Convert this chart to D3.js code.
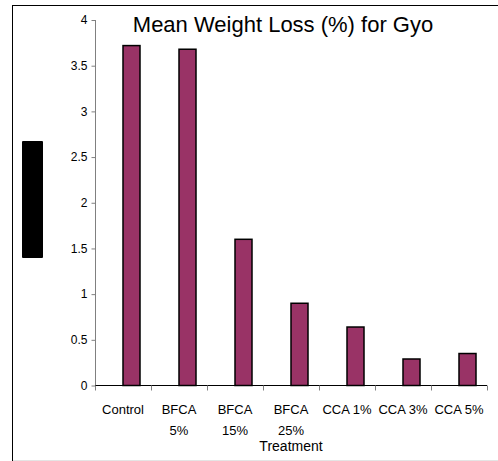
<!DOCTYPE html>
<html>
<head>
<meta charset="utf-8">
<script src="https://cdn.jsdelivr.net/npm/d3@7"></script>
<style>
html,body{margin:0;padding:0;background:#fff;}
svg{display:block;font-family:"Liberation Sans",Arial,sans-serif;}
</style>
</head>
<body>
<svg id="chart" width="498" height="461"></svg>
<script>
const categories = [["Control"], ["BFCA", "5%"], ["BFCA", "15%"], ["BFCA", "25%"], ["CCA 1%"], ["CCA 3%"], ["CCA 5%"]];
const values = [3.72, 3.68, 1.60, 0.90, 0.64, 0.29, 0.35];
const yTicks = [0, 0.5, 1, 1.5, 2, 2.5, 3, 3.5, 4];
const title = "Mean Weight Loss (%) for Gyo";
const xTitle = "Treatment";

(function(){
const svg = d3.select("#chart");
const pL = 95, pR = 487, pT = 20, pB = 385.5;

// frame
svg.append("line").attr("x1",12.5).attr("x2",12.5).attr("y1",5).attr("y2",461).attr("stroke","#000").attr("stroke-width",1);
svg.append("line").attr("x1",12).attr("x2",498).attr("y1",5.5).attr("y2",5.5).attr("stroke","#000").attr("stroke-width",1);
svg.append("line").attr("x1",13).attr("x2",498).attr("y1",460.5).attr("y2",460.5).attr("stroke","#e4e4e4").attr("stroke-width",1);

const keys = categories.map(c => c.join(" "));
const x = d3.scaleBand().domain(keys).range([pL, pR]).padding(0);
const y = d3.scaleLinear().domain([0, 4]).range([pB, pT]);

// y axis
const yAxis = svg.append("g").attr("transform", `translate(${pL+0.5},0)`)
  .call(d3.axisLeft(y).tickValues(yTicks).tickFormat(d3.format("~g")).tickSize(4).tickPadding(4));
yAxis.select(".domain").attr("stroke","#808080").attr("d", `M0,${pT}V${pB}`);
yAxis.selectAll(".tick line").attr("stroke","#808080");
yAxis.selectAll("text").attr("font-size",12).attr("font-family","Liberation Sans, Arial, sans-serif").attr("fill","#000");

// bars
const bw = 17;
svg.append("g").selectAll("rect").data(values).join("rect")
  .attr("x", (d,i) => x(keys[i]) + x.bandwidth()/2)
  .attr("y", d => y(d))
  .attr("width", bw)
  .attr("height", d => y(0) - y(d))
  .attr("fill", "#993366")
  .attr("stroke", "#000")
  .attr("stroke-width", 1.5);

// x axis
const xAxis = svg.append("g").attr("transform", `translate(0,${pB})`);
xAxis.append("line").attr("x1", pL).attr("x2", pR).attr("stroke","#000").attr("stroke-width",1.2);
const tickPos = keys.map(k => x(k)).concat([pR]);
xAxis.selectAll("line.tk").data(tickPos).join("line").attr("class","tk")
  .attr("x1", d => d+0.5).attr("x2", d => d+0.5).attr("y1", 0).attr("y2", 5)
  .attr("stroke","#808080");
const lbl = xAxis.selectAll("text.lbl").data(categories).join("text").attr("class","lbl")
  .attr("x", (d,i) => x(keys[i]) + x.bandwidth()/2)
  .attr("text-anchor","middle").attr("font-size",13).attr("fill","#000");
lbl.selectAll("tspan").data(d => d).join("tspan")
  .attr("x", function(){ return d3.select(this.parentNode).attr("x"); })
  .attr("y", (d,i) => 28 + i*21.5)
  .text(d => d);

// titles
svg.append("text").attr("x", 283).attr("y", 32).attr("text-anchor","middle")
  .attr("font-size", 22).attr("fill","#000").text(title);
svg.append("text").attr("x", (pL+pR)/2).attr("y", 451).attr("text-anchor","middle")
  .attr("font-size", 14).attr("fill","#000").text(xTitle);

// redacted y-axis title block
svg.append("rect").attr("x", 22).attr("y", 141).attr("width", 21).attr("height", 117).attr("rx", 1).attr("fill", "#000");
})();
</script>
</body>
</html>
